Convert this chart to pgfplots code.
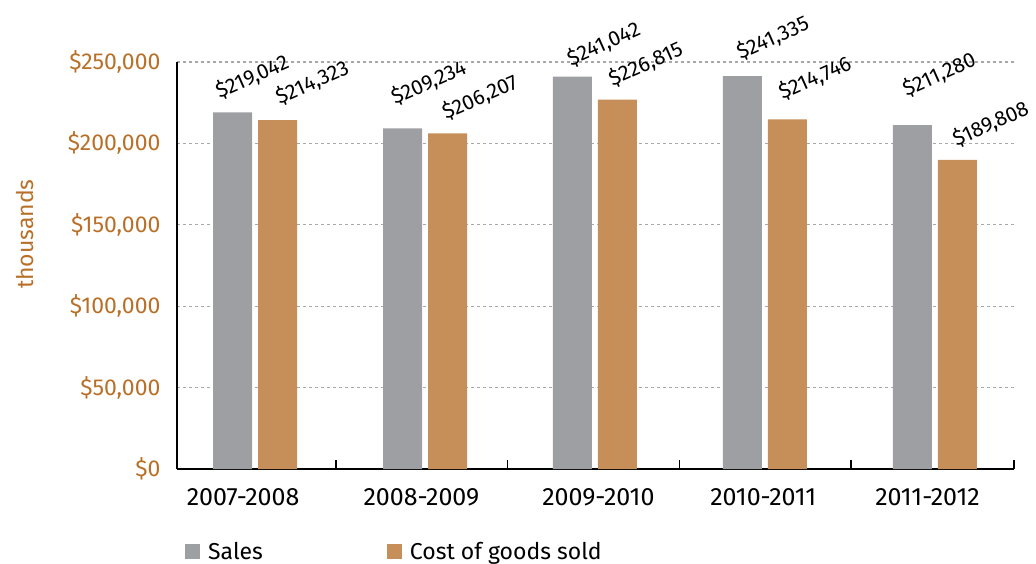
\documentclass[border=0pt]{standalone}
\usepackage{fontspec}
\setmainfont{Fira Sans}
\usepackage{pgfplots}
\usepackage{pgfplotstable}
\pgfplotsset{compat=1.18}

\definecolor{salesgray}{HTML}{9E9FA3}
\definecolor{cogstan}{HTML}{C68E58}
\definecolor{axisorange}{RGB}{184,112,40}
\definecolor{gridgray}{HTML}{A8A8A8}

\newcommand{\chartfont}{\fontsize{23bp}{27bp}\selectfont}
\newcommand{\catfont}{\fontsize{25bp}{29bp}\selectfont}
\newcommand{\valfont}{\fontsize{21bp}{25bp}\selectfont}

% year index, value, and offsets (bp) of the value labels
\pgfplotstableread{
x sales sdx sdy cost cdx cdy
0 219042 -11.5 10 214323 3.5 12
1 209234 -6 20 206207 0 10
2 241042 0 7 226815 -3.5 10
3 241335 -0.5 13 214746 -3.5 16
4 211280 -4.5 25 189808 0.5 10
}\finance

\begin{document}
\begin{tikzpicture}[font=\chartfont]
\begin{axis}[
  name=ax,
  scale only axis, width=837bp, height=407bp,
  xmin=-0.459, xmax=4.465, ymin=0, ymax=250000,
  ybar=6bp, bar width=39bp,
  axis x line*=bottom, axis y line*=left,
  axis line style={black, line width=1.5bp, -},
  xtick={-0.07,0.979,2.02,2.99,3.956},
  xticklabels={2007-2008,2008-2009,2009-2010,2010-2011,2011-2012},
  minor xtick={0.475,1.486,2.498,3.506,4.465},
  major tick length=0pt, minor tick length=9bp, tick align=inside,
  minor tick style={black, line width=1.5bp},
  ytick={0,50000,100000,150000,200000,250000},
  yticklabels={\$0,\$50{,}000,\$100{,}000,\$150{,}000,\$200{,}000,\$250{,}000},
  scaled y ticks=false,
  ymajorgrids,
  major grid style={gridgray, line width=1.2bp, dash pattern=on 3bp off 3bp},
  tick label style={font=\chartfont},
  yticklabel style={text=axisorange, xshift=-13bp},
  xticklabel style={font=\catfont, yshift=-16bp},
  ylabel={thousands},
  ylabel style={font=\chartfont, text=axisorange, at={(axis description cs:-0.182,0.577)}, anchor=center},
  /pgf/number format/assume math mode=true,
  legend columns=2,
  legend style={draw=none, fill=none, font=\chartfont, inner sep=0pt,
    at={(axis description cs:0,0)}, anchor=west, xshift=8bp, yshift=-82.5bp,
    /tikz/every even column/.append style={column sep=122bp}},
  legend image code/.code={\fill[#1,draw=none] (0bp,-7.5bp) rectangle (15bp,7.5bp); \path (21bp,0bp);},
  nodes near coords={\$\pgfmathprintnumber[fixed,precision=0,1000 sep={,}]{\pgfplotspointmeta}},
  every node near coord/.append style={font=\valfont, inner sep=0pt},
]
\addplot[fill=salesgray, draw=none,
  visualization depends on={\thisrow{sdx} \as \ldx},
  visualization depends on={\thisrow{sdy} \as \ldy},
  every node near coord/.append style={xshift=\ldx bp, yshift=\ldy bp, rotate=24, anchor=south west}]
  table[x=x, y=sales] {\finance};
\addlegendentry{Sales}
\addplot[fill=cogstan, draw=none,
  visualization depends on={\thisrow{cdx} \as \ldx},
  visualization depends on={\thisrow{cdy} \as \ldy},
  every node near coord/.append style={xshift=\ldx bp, yshift=\ldy bp, rotate=24, anchor=south west}]
  table[x=x, y=cost] {\finance};
\addlegendentry{Cost of goods sold}
\end{axis}
\pgfresetboundingbox
\useasboundingbox ([xshift=-177bp,yshift=-95bp]ax.south west) rectangle ([xshift=22bp,yshift=62bp]ax.north east);
\end{tikzpicture}
\end{document}
